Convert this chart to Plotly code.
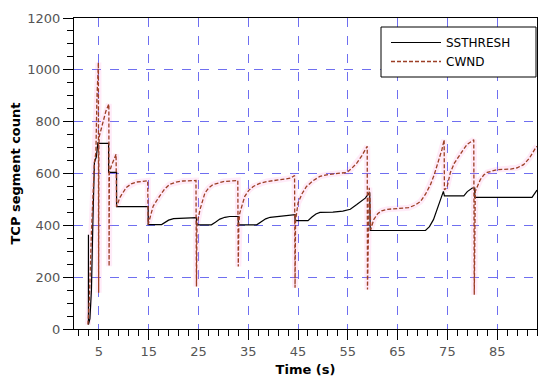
import plotly.graph_objects as go

# SSTHRESH series (time in s, segments)
ss_time = [2.9, 2.9, 3.2, 3.5, 3.8, 4.1, 4.5, 4.8, 4.9, 6.95, 6.95, 8.55, 8.55, 14.9, 14.9,
           17.6, 18.3, 19.0, 20.0, 22.0, 24.6, 24.6, 27.6, 28.4, 29.3, 30.3, 31.3, 33.0, 33.0,
           36.7, 37.5, 38.5, 39.4, 42.0, 44.1, 44.4, 44.4, 47.0, 47.8, 48.6, 49.4, 52.0, 54.0,
           55.5, 56.8, 58.5, 59.4, 59.5, 70.6, 71.4, 72.2, 73.2, 74.2, 74.4, 78.3, 79.0, 80.0,
           80.5, 80.5, 92.0, 92.8, 93.0]
ss_value = [364, 17, 40, 150, 420, 642, 665, 720, 716, 716, 604, 604, 472, 472, 403,
            403, 410, 420, 426, 428, 430, 402, 402, 412, 424, 431, 434, 434, 402,
            402, 412, 425, 431, 436, 441, 441, 418, 418, 432, 444, 450, 451, 455,
            462, 480, 505, 527, 380, 380, 395, 422, 473, 531, 514, 514, 530, 544,
            544, 508, 508, 531, 536]

# CWND series (time in s, segments)
cw_time = [2.8, 3.1, 3.5, 3.8, 4.1, 4.4, 4.6, 4.9, 4.95, 5.0, 5.1, 5.8, 6.4, 7.0, 7.05,
           7.1, 7.5, 8.0, 8.45, 8.55, 9.2, 10.5, 11.5, 12.5, 14.8, 14.9, 15.9, 17.2, 18.2,
           19.2, 20.5, 21.9, 24.5, 24.6, 24.7, 25.3, 26.3, 27.1, 27.9, 30.0, 32.9, 33.0,
           33.1, 33.3, 34.3, 35.1, 36.0, 37.3, 38.7, 41.4, 43.5, 44.3, 44.4, 44.5, 45.0,
           45.8, 46.7, 48.0, 49.4, 51.0, 52.8, 54.8, 55.8, 56.8, 57.8, 58.5, 58.9, 58.95,
           59.3, 59.45, 59.6, 60.2, 61.0, 61.8, 63.0, 65.0, 67.2, 68.5, 69.6, 70.6, 71.6,
           72.3, 72.9, 73.5, 73.9, 74.35, 74.4, 74.9, 75.6, 76.4, 77.3, 78.2, 79.0, 80.3,
           80.4, 80.5, 80.6, 81.6, 82.3, 83.0, 85.0, 87.7, 89.0, 90.3, 91.5, 92.7, 93.0]
cw_value = [17, 120, 372, 514, 643, 681, 888, 1028, 140, 713, 745, 797, 840, 868, 242,
            604, 629, 652, 674, 472, 507, 546, 560, 567, 572, 403, 474, 513, 540,
            558, 567, 571, 573, 164, 402, 460, 525, 545, 557, 569, 573, 241,
            405, 447, 512, 535, 550, 562, 569, 576, 582, 592, 159, 418, 486,
            522, 550, 572, 589, 596, 599, 604, 620, 640, 668, 690, 705, 152,
            545, 500, 383, 422, 445, 456, 462, 465, 468, 478, 492, 520, 557,
            592, 627, 665, 692, 730, 537, 545, 604, 640, 668, 692, 713, 730,
            132, 510, 531, 576, 594, 604, 615, 617, 622, 634, 660, 698, 705]

x_ticks = [5, 15, 25, 35, 45, 55, 65, 75, 85]
y_ticks = [0, 200, 400, 600, 800, 1000, 1200]

fig = go.Figure()
# faint halo under the CWND line
fig.add_trace(go.Scatter(x=cw_time, y=cw_value, mode="lines", showlegend=False,
                         hoverinfo="skip",
                         line=dict(color="rgba(255,120,210,0.15)", width=6)))
fig.add_trace(go.Scatter(x=ss_time, y=ss_value, mode="lines", name="SSTHRESH",
                         line=dict(color="black", width=1.2)))
fig.add_trace(go.Scatter(x=cw_time, y=cw_value, mode="lines", name="CWND",
                         line=dict(color="#9c3f25", width=1.3, dash="4px,2px")))

axis_common = dict(showline=True, linecolor="black", linewidth=1.2, mirror=True,
                   ticks="outside", ticklen=10, tickcolor="black", tickwidth=1.2,
                   showgrid=True, gridcolor="#6f6ff0", griddash="dash", gridwidth=1,
                   zeroline=False, automargin=False,
                   tickfont=dict(family="DejaVu Sans", size=13, color="#555555"))

fig.update_xaxes(range=[0, 93], tickvals=x_ticks, ticktext=[str(v) for v in x_ticks],
                 minor=dict(ticks="outside", ticklen=6, tick0=1, dtick=2,
                            tickcolor="black", showgrid=False),
                 title=dict(text="<b>Time (s)</b>", standoff=10,
                            font=dict(family="DejaVu Sans", size=13, color="black")),
                 **axis_common)
fig.update_yaxes(range=[0, 1200], tickvals=y_ticks, ticktext=[str(v) for v in y_ticks],
                 minor=dict(ticks="outside", ticklen=6, dtick=50, tick0=0,
                            tickcolor="black", showgrid=False),
                 title=dict(text="<b>TCP segment count</b>", standoff=7,
                            font=dict(family="DejaVu Sans", size=13, color="black")),
                 **axis_common)

# legend frame (white box with black border)
fig.add_shape(type="rect", xref="paper", yref="paper", layer="above",
              x0=(381 - 74) / 463, x1=(536 - 74) / 463,
              y0=1 - (77 - 18) / 311, y1=1 - (27 - 18) / 311,
              line=dict(color="black", width=1), fillcolor="white")

fig.update_layout(
    width=534, height=369,
    margin=dict(l=66, r=5, t=10, b=48),
    plot_bgcolor="white", paper_bgcolor="white",
    font=dict(family="DejaVu Sans", size=12, color="black"),
    legend=dict(x=(386 - 74) / 463, y=1 - (28 - 18) / 311, xanchor="left", yanchor="top",
                bgcolor="rgba(0,0,0,0)", borderwidth=0, itemwidth=50,
                font=dict(family="DejaVu Sans", size=12, color="black"),
                tracegroupgap=0),
)

fig.write_html("out.html")
